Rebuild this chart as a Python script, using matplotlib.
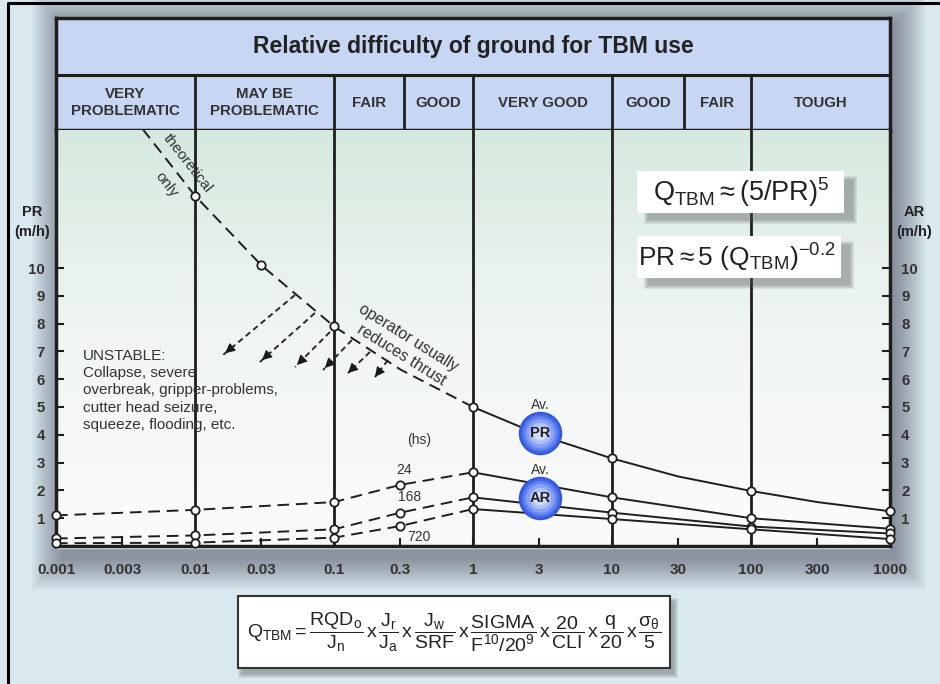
import numpy as np
import matplotlib.pyplot as plt
from matplotlib.patches import Rectangle
from matplotlib.colors import LinearSegmentedColormap

plt.rcParams['font.family'] = ['Liberation Sans', 'DejaVu Sans']
plt.rcParams['mathtext.fontset'] = 'custom'
plt.rcParams['mathtext.rm'] = 'Liberation Sans'
plt.rcParams['mathtext.it'] = 'Liberation Sans'
plt.rcParams['mathtext.bf'] = 'Liberation Sans:bold'

# ground classes (Q_TBM boundaries)
class_edges = [0.001, 0.01, 0.1, 0.32, 1, 10, 33, 100, 1000]
class_labels = ['VERY\nPROBLEMATIC', 'MAY BE\nPROBLEMATIC', 'FAIR', 'GOOD',
                'VERY GOOD', 'GOOD', 'FAIR', 'TOUGH']

# penetration rate PR (m/h)
pr_q = [0.0042, 0.01, 0.03, 0.1, 0.3, 1, 3, 10, 30, 100, 300, 1000]
pr_val = [15.0, 12.6, 10.1, 7.9, 6.35, 5.0, 4.0, 3.15, 2.5, 1.98, 1.58, 1.25]
pr_mark = [0, 1, 1, 1, 0, 1, 0, 1, 0, 1, 0, 1]

# advance rate AR (m/h) for 24, 168 and 720 hours
ar_q = [0.001, 0.01, 0.1, 0.3, 1, 10, 100, 1000]
ar_24 = [1.1, 1.3, 1.58, 2.2, 2.65, 1.75, 1.0, 0.62]
ar_168 = [0.27, 0.38, 0.6, 1.2, 1.75, 1.2, 0.7, 0.45]
ar_720 = [0.1, 0.12, 0.3, 0.72, 1.33, 0.97, 0.6, 0.25]
ar_hours = ['24', '168', '720']

# "operator reduces thrust" arrows
arrow_q0 = [0.0524, 0.0729, 0.0936, 0.1346, 0.1815, 0.2446]
arrow_pr0 = [9.03, 8.38, 7.70, 7.41, 6.98, 6.69]
arrow_q1 = [0.0159, 0.0293, 0.0524, 0.0834, 0.126, 0.197]
arrow_pr1 = [6.87, 6.62, 6.44, 6.33, 6.22, 6.08]

xtick_vals = [0.001, 0.003, 0.01, 0.03, 0.1, 0.3, 1, 3, 10, 30, 100, 300, 1000]
xtick_text = ['0.001', '0.003', '0.01', '0.03', '0.1', '0.3', '1', '3', '10',
              '30', '100', '300', '1000']
ytick_vals = [1, 2, 3, 4, 5, 6, 7, 8, 9, 10]

W, H = 940, 684
dark = '#1e1e1e'
txt = '#333333'

fig = plt.figure(figsize=(9.4, 6.84), dpi=100)

# background in pixel coordinates
bg = fig.add_axes([0, 0, 1, 1])
bg.set_xlim(0, W)
bg.set_ylim(H, 0)
bg.axis('off')
bg.add_patch(Rectangle((0, 0), W, H, color='#d9e9ef', zorder=0))
for i in range(16):
    bg.add_patch(Rectangle((56 + 6 - 2 * i, 18 + 5 - 2 * i), 834 + 4 * i, 536 + 4 * i,
                           color='#223', alpha=0.03, lw=0, zorder=1))
bg.add_patch(Rectangle((56, 18), 834, 530, color='#eef4f5', zorder=2))
bg.plot([8, 8, W], [H, 3, 3], color='black', lw=2.2, zorder=3)


def fx(x):
    return x / W


def fy(y):
    return 1 - y / H


# header table
hx = fig.add_axes([fx(56), fy(130), 834 / W, 112 / H])
hx.set_xscale('log')
hx.set_xlim(0.001, 1000)
hx.set_ylim(0, 2)
hx.set_facecolor('#c6d6f3')
hx.set_xticks([])
hx.set_yticks([])
hx.minorticks_off()
for s in hx.spines.values():
    s.set_linewidth(2.5)
    s.set_color(dark)
hx.axhline(0.98, color=dark, lw=2.2)
for e in class_edges[1:-1]:
    hx.plot([e, e], [0, 0.98], color=dark, lw=2)
for i, lab in enumerate(class_labels):
    xm = np.sqrt(class_edges[i] * class_edges[i + 1])
    hx.text(xm, 0.49, lab, ha='center', va='center', fontsize=10.8,
            fontweight='bold', color=txt, linespacing=1.2)
hx.text(0.5, 0.75, 'Relative difficulty of ground for TBM use', transform=hx.transAxes,
        ha='center', va='center', fontsize=16.5, fontweight='bold', color='#222')

# main chart
ax = fig.add_axes([fx(56), fy(546), 834 / W, 416 / H])
ax.set_xscale('log')
ax.set_xlim(0.001, 1000)
ax.set_ylim(0, 416 / 27.8)
grad = LinearSegmentedColormap.from_list('g', ['#fbfbfb', '#f1f6f3', '#d6e9de'])
ax.imshow(np.linspace(0, 1, 256).reshape(-1, 1), cmap=grad, origin='lower',
          extent=(0, 1, 0, 1), transform=ax.transAxes, aspect='auto', zorder=0)

for q in [0.01, 0.1, 1, 10, 100]:
    ax.axvline(q, color=dark, lw=2, zorder=2)

for side in ['left', 'right', 'bottom']:
    ax.spines[side].set_linewidth(2.5)
    ax.spines[side].set_color(dark)
ax.spines['top'].set_visible(False)

ax.minorticks_off()
ax.set_xticks(xtick_vals)
ax.set_xticklabels(xtick_text)
ax.set_yticks(ytick_vals)
ax.set_yticklabels([str(v) for v in ytick_vals])
ax.tick_params(axis='x', direction='in', length=6, width=1.5, pad=12,
               labelsize=11, labelcolor=txt, color=dark)
ax.tick_params(axis='y', direction='in', length=6, width=1.5, pad=8,
               labelsize=10.8, labelcolor=txt, color=dark,
               left=True, right=True, labelleft=True, labelright=True)
for lbl in ax.get_xticklabels():
    lbl.set_fontweight('bold')
for t in ax.yaxis.get_major_ticks():
    t.label1.set_fontweight('bold')
    t.label2.set_fontweight('bold')

dash = (0, (6, 3.5))
lw = 1.4

# PR curve: dashed below Q=1, solid above
pr_q = np.array(pr_q)
pr_val = np.array(pr_val)
lo = pr_q <= 1
hi = pr_q >= 1
ax.plot(pr_q[lo], pr_val[lo], color=dark, lw=lw, linestyle=dash, zorder=4)
ax.plot(pr_q[hi], pr_val[hi], color=dark, lw=lw, zorder=4)
m = np.array(pr_mark, dtype=bool)
ax.plot(pr_q[m], pr_val[m], 'o', ms=6, mfc='white', mec=dark, mew=1.3, zorder=6,
        clip_on=False)

ar_q = np.array(ar_q)
for vals in [ar_24, ar_168, ar_720]:
    vals = np.array(vals)
    lo = ar_q <= 1
    hi = ar_q >= 1
    ax.plot(ar_q[lo], vals[lo], color=dark, lw=lw, linestyle=dash, zorder=4)
    ax.plot(ar_q[hi], vals[hi], color=dark, lw=lw, zorder=4)
    ax.plot(ar_q, vals, 'o', ms=6, mfc='white', mec=dark, mew=1.3, zorder=6,
            clip_on=False)

# arrows
for q0, p0, q1, p1 in zip(arrow_q0, arrow_pr0, arrow_q1, arrow_pr1):
    ax.plot([q0, q1], [p0, p1], color='#2a2a2a', lw=1.4, linestyle=(0, (3, 2)), zorder=3)
    # back-step along the arrow for the head
    qb = 10 ** (np.log10(q1) + 0.15 * (np.log10(q0) - np.log10(q1)))
    pb = p1 + 0.15 * (p0 - p1)
    ax.annotate('', xy=(q1, p1), xytext=(qb, pb),
                arrowprops=dict(arrowstyle='-|>', color='#1a1a1a', lw=0.8,
                                mutation_scale=15), zorder=3)

# curve annotations
ax.text(0.0088, 13.75, 'theoretical', rotation=-52, ha='center', va='center',
        fontsize=11, color=txt, zorder=5)
ax.text(0.0062, 13.0, 'only', rotation=-52, ha='center', va='center',
        fontsize=11, color=txt, zorder=5)
ax.text(0.345, 7.48, 'operator usually', rotation=-32, ha='center', va='center',
        fontsize=11.5, color=txt, zorder=5)
ax.text(0.305, 6.85, 'reduces thrust', rotation=-32, ha='center', va='center',
        fontsize=11.5, color=txt, zorder=5)
ax.text(0.00156, 7.1, 'UNSTABLE:\nCollapse, severe\noverbreak, gripper-problems,\n'
        'cutter head seizure,\nsqueeze, flooding, etc.', ha='left', va='top',
        fontsize=11, color=txt, linespacing=1.3, zorder=5)
ax.text(0.41, 3.8, '(hs)', ha='center', va='center', fontsize=10, color=txt)
ax.text(0.32, 2.73, ar_hours[0], ha='center', va='center', fontsize=10, color=txt)
ax.text(0.35, 1.76, ar_hours[1], ha='center', va='center', fontsize=10, color=txt)
ax.text(0.41, 0.32, ar_hours[2], ha='center', va='center', fontsize=10, color=txt)

# average balls
for (bq, bv, lab) in [(3.05, 4.06, 'PR'), (3.05, 1.73, 'AR')]:
    for s, c in [(980, '#3256de'), (800, '#4468e8'), (620, '#6385ef'),
                 (430, '#88a2f4'), (240, '#afc1f8'), (100, '#d2dcfb')]:
        ax.scatter([bq], [bv], s=s, color=c, lw=0, zorder=7)
    ax.text(bq, bv, lab, ha='center', va='center', fontsize=10.5,
            fontweight='bold', color='#222', zorder=8)
    ax.text(bq, bv + 1.02, 'Av.', ha='center', va='center', fontsize=10,
            color=txt, zorder=8)

# overlay in pixel coordinates: formula boxes and axis captions
ov = fig.add_axes([0, 0, 1, 1], zorder=10)
ov.set_xlim(0, W)
ov.set_ylim(H, 0)
ov.axis('off')
ov.patch.set_alpha(0)


def box(x0, y0, w, h, sdx=10, sdy=8, edge=None):
    for i in range(5):
        ov.add_patch(Rectangle((x0 + sdx - i, y0 + sdy - i), w + 2 * i, h + 2 * i,
                               color='#555', alpha=0.1, lw=0))
    ov.add_patch(Rectangle((x0, y0), w, h, fc='white',
                           ec=edge if edge else 'white', lw=1.5))


box(638, 172, 205, 40)
ov.text(741, 192, r'$\mathrm{Q_{TBM}} \approx (5/\mathrm{PR})^{5}$', ha='center',
        va='center', fontsize=19.5, color='#222')
box(638, 237, 202, 40)
ov.text(737, 258, r'$\mathrm{PR} \approx 5\ (\mathrm{Q_{TBM}})^{-0.2}$', ha='center',
        va='center', fontsize=19, color='#222')

box(238, 596, 432, 72, sdx=4, sdy=6, edge='#333')
ov.text(454, 632,
        r'$\mathrm{Q_{TBM}} = \dfrac{\mathrm{RQD_o}}{\mathrm{J_n}}\,\mathrm{x}\,'
        r'\dfrac{\mathrm{J_r}}{\mathrm{J_a}}\,\mathrm{x}\,'
        r'\dfrac{\mathrm{J_w}}{\mathrm{SRF}}\,\mathrm{x}\,'
        r'\dfrac{\mathrm{SIGMA}}{\mathrm{F^{10}/20^{9}}}\,\mathrm{x}\,'
        r'\dfrac{20}{\mathrm{CLI}}\,\mathrm{x}\,\dfrac{\mathrm{q}}{20}\,\mathrm{x}\,'
        r'\dfrac{\sigma_{\theta}}{5}$',
        ha='center', va='center', fontsize=14, color='#222')

ov.text(32, 222, 'PR\n(m/h)', ha='center', va='center', fontsize=10.5,
        fontweight='bold', color='#222', linespacing=1.6)
ov.text(914, 222, 'AR\n(m/h)', ha='center', va='center', fontsize=10.5,
        fontweight='bold', color='#222', linespacing=1.6)

fig.savefig('out.png', dpi=100)
